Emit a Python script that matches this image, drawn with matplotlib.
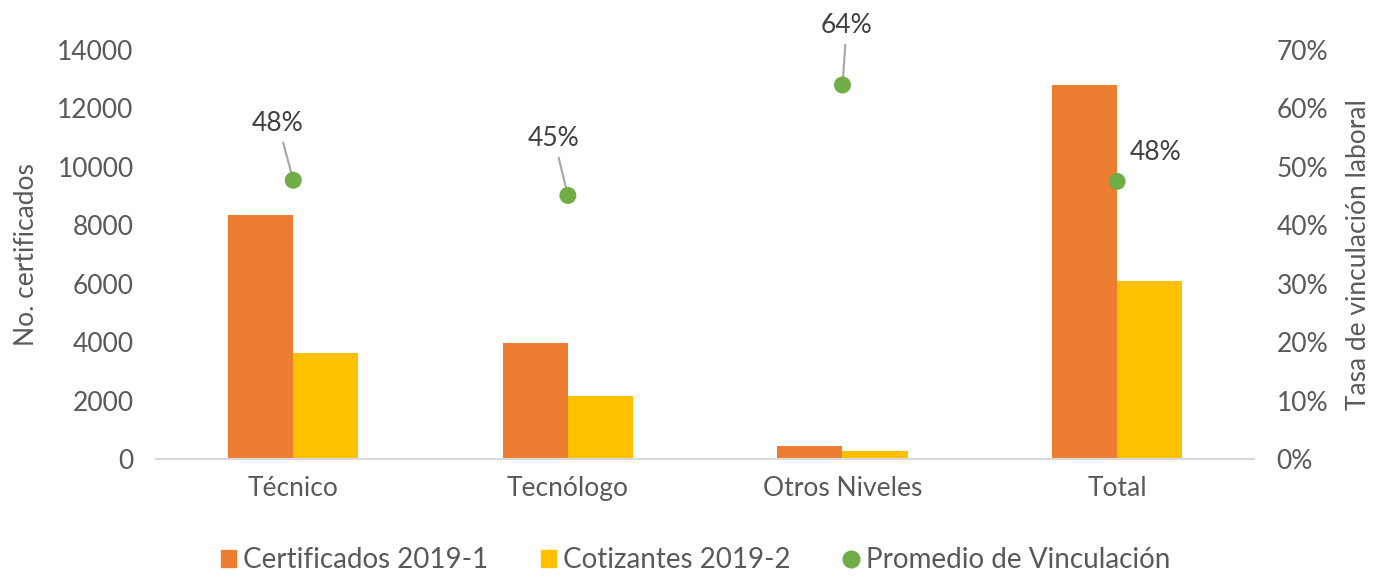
import matplotlib
matplotlib.use("Agg")
import matplotlib.pyplot as plt
import numpy as np
from matplotlib.lines import Line2D
from matplotlib.patches import Patch

categories = ["Técnico", "Tecnólogo", "Otros Niveles", "Total"]
certificados = [8350, 3960, 455, 12790]
cotizantes = [3620, 2160, 285, 6090]
vinculacion = [0.477, 0.451, 0.640, 0.475]
vinc_labels = ["48%", "45%", "64%", "48%"]
left_ticks = [0, 2000, 4000, 6000, 8000, 10000, 12000, 14000]
right_ticks = [0, 0.1, 0.2, 0.3, 0.4, 0.5, 0.6, 0.7]

# label offsets in points (dx, dy) relative to dot, and whether leader line is drawn
label_offsets = [(-11, 41), (-10, 41), (3, 43), (28, 21)]
leaders = [True, True, True, False]

plt.rcParams['font.family'] = ['Lato', 'DejaVu Sans']
ORANGE = "#ED7D31"
YELLOW = "#FFC000"
GREEN = "#70AD47"
TXT = "#595959"
FS = 19

fig = plt.figure(figsize=(13.8, 5.77), dpi=100)
ax = fig.add_axes([0.113, 0.2045, 0.796, 0.709])
ax2 = ax.twinx()

x = np.arange(len(categories))
w = 0.237
ax.bar(x - w / 2, certificados, w, color=ORANGE, label="Certificados 2019-1", zorder=2)
ax.bar(x + w / 2, cotizantes, w, color=YELLOW, label="Cotizantes 2019-2", zorder=2)

ax.set_xlim(-0.5, len(categories) - 0.5)
ax.set_ylim(0, 14000)
ax.set_yticks(left_ticks)
ax.set_yticklabels([str(t) for t in left_ticks])
ax.set_xticks(x)
ax.set_xticklabels(categories)

ax2.set_ylim(0, 0.7)
ax2.set_yticks(right_ticks)
ax2.set_yticklabels([f"{int(round(t*100))}%" for t in right_ticks])

ax2.scatter(x, vinculacion, s=150, color=GREEN, zorder=5, edgecolors='none')

for i, (xi, v) in enumerate(zip(x, vinculacion)):
    dx, dy = label_offsets[i]
    kw = {}
    if leaders[i]:
        kw['arrowprops'] = dict(arrowstyle='-', color='#A6A6A6', lw=1.5,
                                shrinkA=3, shrinkB=0)
    ax2.annotate(vinc_labels[i], xy=(xi, v), xytext=(dx, dy), textcoords='offset points',
                 ha='center', va='center', fontsize=FS, color='#404040', **kw)

for a in (ax, ax2):
    for s in a.spines.values():
        s.set_visible(False)
    a.tick_params(length=0, labelsize=FS, labelcolor=TXT)
ax.spines['bottom'].set_visible(True)
ax.spines['bottom'].set_color('#D9D9D9')
ax.spines['bottom'].set_linewidth(1.5)
ax.tick_params(axis='x', pad=12)
ax.tick_params(axis='y', pad=16)
ax2.tick_params(axis='y', pad=16)

ax.set_ylabel("No. certificados", fontsize=FS, color=TXT, labelpad=13)
ax2.set_ylabel("Tasa de vinculación laboral", fontsize=FS, color=TXT, labelpad=13, rotation=90)

handles = [Patch(color=ORANGE), Patch(color=YELLOW),
           Line2D([], [], marker='o', color=GREEN, linestyle='none', markersize=12)]
labels = ["Certificados 2019-1", "Cotizantes 2019-2", "Promedio de Vinculación"]
leg = fig.legend(handles, labels, loc='center', bbox_to_anchor=(0.504, 0.029), ncol=3,
                 frameon=False, fontsize=20, handlelength=0.55, handleheight=0.55,
                 handletextpad=0.25, columnspacing=1.9, borderpad=0.1)
for t in leg.get_texts():
    t.set_color(TXT)

fig.savefig("out.png", dpi=100)
